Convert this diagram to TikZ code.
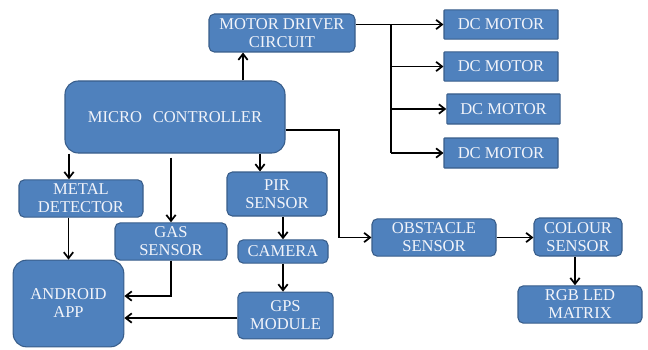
\documentclass[tikz,border=0pt]{standalone}
\usepackage{fontspec}
\setmainfont{Liberation Serif}
\usepackage{tikz}
\usetikzlibrary{arrows.meta, calc}
\definecolor{boxfill}{HTML}{4F81BD}
\definecolor{boxline}{HTML}{385D8A}
\definecolor{boxtext}{HTML}{F2F4FA}
\tikzset{
    block/.style={draw=boxline, fill=boxfill, thick, rounded corners=4pt, text=boxtext,
        align=center, inner sep=0pt, font=\fontsize{12.4}{13.5}\selectfont},
    bigblock/.style={block, rounded corners=10pt},
    motor/.style={block, rounded corners=0.5pt},
    arr/.style={-{Straight Barb[length=4.5pt, width=7pt]}, line width=1.3pt, black},
    line/.style={line width=1.3pt, black}
}

\begin{document}
\begin{tikzpicture}[x=0.75pt, y=-0.75pt]
    \useasboundingbox (0,0) rectangle (648,349);
    % Steuerung
    \node[bigblock, minimum width=165pt, minimum height=54pt] (mc) at (175,117) {MICRO\hspace{8pt}CONTROLLER};
    \node[block, minimum width=109.5pt, minimum height=28.5pt] (md) at (282,33) {MOTOR DRIVER\\CIRCUIT};
    % Motoren
    \node[motor, minimum width=85.5pt, minimum height=22pt] (dc1) at (501,24.5) {DC MOTOR};
    \node[motor, minimum width=85.5pt, minimum height=22pt] (dc2) at (501,66.5) {DC MOTOR};
    \node[motor, minimum width=85pt, minimum height=22.5pt] (dc3) at (503.5,109) {DC MOTOR};
    \node[motor, minimum width=85.5pt, minimum height=22.5pt] (dc4) at (501,153) {DC MOTOR};
    % Sensoren
    \node[block, minimum width=93pt, minimum height=28pt] (metal) at (81,198.5) {METAL\\DETECTOR};
    \node[block, minimum width=84pt, minimum height=28pt] (gas) at (171,241.5) {GAS\\SENSOR};
    \node[block, minimum width=75pt, minimum height=33pt] (pir) at (277,194) {PIR\\SENSOR};
    \node[block, minimum width=67.5pt, minimum height=17.5pt] (cam) at (283,251.5) {CAMERA};
    \node[block, minimum width=71.5pt, minimum height=35pt] (gps) at (285.5,315.5) {GPS\\MODULE};
    \node[bigblock, minimum width=83pt, minimum height=65pt] (app) at (68.5,303.5) {ANDROID\\APP};
    \node[block, minimum width=93pt, minimum height=28pt] (obs) at (434,237.5) {OBSTACLE\\SENSOR};
    \node[block, minimum width=66pt, minimum height=28.5pt] (col) at (578,237) {COLOUR\\SENSOR};
    \node[block, minimum width=93pt, minimum height=28pt] (rgb) at (580,304.5) {RGB LED\\MATRIX};
    \coordinate (trunk) at (391,24.5);
    \coordinate (bend) at (339,130);

    % Motortreiber und Motoren
    \draw[arr] ([xshift=-29.25pt]md.south |- mc.north) -- ([xshift=-29.25pt]md.south);
    \draw[arr] (md.east |- dc1.west) -- (dc1.west);
    \draw[line] (trunk) -- (trunk |- dc4.west);
    \draw[arr] (trunk |- dc2.west) -- (dc2.west);
    \draw[arr] (trunk |- dc3.west) -- (dc3.west);
    \draw[arr] (trunk |- dc4.west) -- (dc4.west);
    % Hindernis und Farbe
    \draw[arr] (mc.east |- bend) -- (bend) |- (obs.west);
    \draw[arr] (obs.east) -- (obs.east -| col.west);
    \draw[arr] ([xshift=-2.25pt]col.south) -- ([xshift=-2.25pt]col.south |- rgb.north);
    % Sensoren zur App
    \draw[arr] ([xshift=-9pt]metal.north |- mc.south) -- ([xshift=-9pt]metal.north);
    \draw[arr] (app.north |- metal.south) -- (app.north);
    \draw[arr] ([yshift=-3pt]gas.north |- mc.south) -- (gas.north);
    \draw[arr] (gas.south) |- ([yshift=5.6pt]app.east);
    \draw[arr] ([xshift=-12.75pt]pir.north |- mc.south) -- ([xshift=-12.75pt]pir.north);
    \draw[arr] (cam.north |- pir.south) -- (cam.north);
    \draw[arr] (cam.south) -- (cam.south |- gps.north);
    \draw[arr] ([yshift=-1.9pt]gps.west) -- ([yshift=-1.9pt]gps.west -| app.east);
\end{tikzpicture}
\end{document}
